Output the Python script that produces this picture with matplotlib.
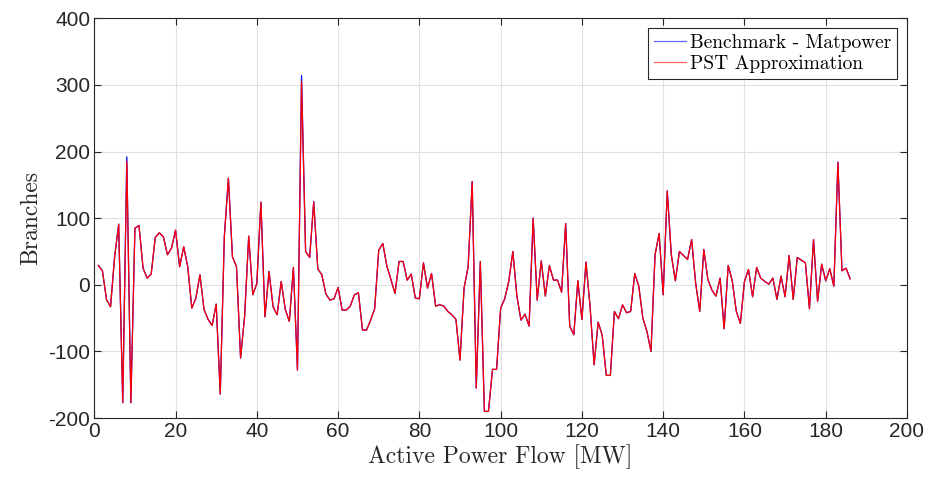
import numpy as np
import matplotlib
matplotlib.use("Agg")
import matplotlib.pyplot as plt

# branch index 1..186
branches = np.arange(1, 187)

# PST approximation (red)
pst = [
    29, 21, -22, -33, 42, 91, -177, 185, -177, 85,
    89, 25, 10, 16, 71, 78, 72, 45, 55, 82,
    27, 57, 27, -35, -20, 15, -37, -52, -61, -29,
    -164, 72, 160, 42, 27, -110, -47, 73, -15, 2,
    124, -48, 20, -33, -45, 5, -37, -55, 26, -128,
    305, 50, 41, 124, 24, 15, -14, -23, -21, -4,
    -38, -38, -32, -15, -12, -68, -68, -53, -36, 52,
    62, 28, 8, -13, 35, 35, 7, 16, -20, -21,
    33, -5, 17, -32, -30, -32, -40, -45, -52, -113,
    -5, 27, 155, -155, 35, -190, -190, -127, -127, -35,
    -21, 5, 50, -17, -53, -44, -62, 100, -23, 36,
    -17, 29, 7, 7, -11, 92, -62, -75, 6, -52,
    34, -32, -120, -56, -76, -136, -136, -40, -51, -30,
    -42, -40, 17, -2, -50, -70, -100, 45, 77, -15,
    141, 45, 6, 50, 44, 38, 68, 2, -40, 53,
    8, -8, -17, 10, -66, 29, 6, -40, -58, 5,
    23, -18, 26, 10, 5, 1, 10, -22, 13, -18,
    44, -22, 41, 37, 33, -36, 68, -25, 31, 6,
    24, -2, 184, 21, 25, 9,
]

# Matpower benchmark (blue) - almost identical, differs on a few peaks
matpower = list(pst)
matpower[7] = 192
matpower[50] = 314
matpower[53] = 125

plt.rcParams["axes.unicode_minus"] = False
plt.rcParams["font.family"] = ["Liberation Sans", "DejaVu Sans"]

fig = plt.figure(figsize=(9.29, 4.79), dpi=100)
ax = fig.add_axes([0.1015, 0.1273, 0.8748, 0.8345])

ax.plot(branches, matpower, color=(0, 0, 1), lw=0.9, label="Benchmark - Matpower")
ax.plot(branches, pst, color=(1, 0, 0), lw=0.9, label="PST Approximation")

ax.set_xlim(0, 200)
ax.set_ylim(-200, 400)
ax.set_xticks(np.arange(0, 201, 20))
ax.set_yticks(np.arange(-200, 401, 100))

dark = (0.15, 0.15, 0.15)
ax.grid(True, color=(0.88, 0.88, 0.88), lw=0.8)
ax.set_axisbelow(True)
ax.tick_params(direction="in", top=True, right=True, length=5, width=0.8,
               labelsize=15, colors=dark, pad=3)
for s in ax.spines.values():
    s.set_color(dark)
    s.set_linewidth(0.8)

ax.set_xlabel("Active Power Flow [MW]", family="cmr10", fontsize=17, color=dark, labelpad=2)
ax.set_ylabel("Branches", family="cmr10", fontsize=17, color=dark, labelpad=4)

leg = ax.legend(loc="upper right", prop={"family": "cmr10", "size": 14},
                fancybox=False, edgecolor=dark, framealpha=1,
                borderpad=0.3, handlelength=1.65, handletextpad=0.2,
                labelspacing=0.15, borderaxespad=0.5)
leg.get_frame().set_linewidth(0.8)
leg.get_lines()[0].set_color((0.4, 0.4, 1.0))
leg.get_lines()[1].set_color((1.0, 0.4, 0.4))

fig.savefig("out.png", dpi=100)
